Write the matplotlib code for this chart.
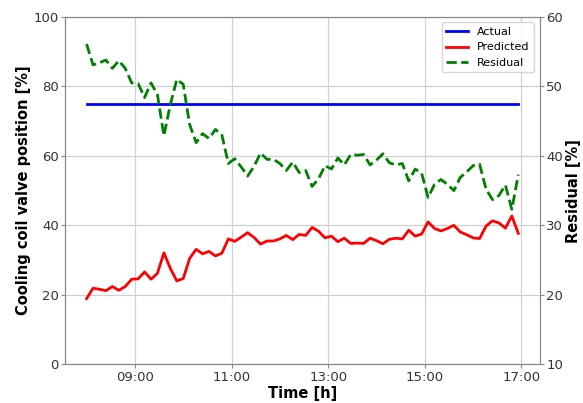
import matplotlib
matplotlib.use("Agg")
import matplotlib.pyplot as plt
import matplotlib.dates as mdates
import numpy as np
import pandas as pd

start_time = "2023-01-01 08:00"
step = "8min"
actual_value = 75.0
predicted = [18.9, 21.9, 21.6, 21.2, 22.4, 21.3, 22.4, 24.5, 24.6, 26.6,
             24.5, 26.2, 32.1, 27.6, 24.0, 24.7, 30.5, 33.1, 31.8, 32.5,
             31.2, 32.0, 36.1, 35.4, 36.6, 37.9, 36.5, 34.6, 35.5, 35.5,
             36.1, 37.1, 35.9, 37.4, 37.1, 39.4, 38.3, 36.4, 36.9, 35.3,
             36.3, 34.8, 34.9, 34.8, 36.3, 35.6, 34.7, 36.0, 36.3, 36.1,
             38.6, 36.9, 37.5, 41.0, 39.1, 38.4, 39.1, 40.0, 38.1, 37.3,
             36.4, 36.2, 39.8, 41.3, 40.7, 39.2, 42.7, 37.7]
times = pd.date_range(start_time, periods=len(predicted), freq=step)
actual = [actual_value] * len(predicted)
residual = [a - p for a, p in zip(actual, predicted)]

fig = plt.figure(figsize=(5.83, 4.03), dpi=100)
ax = fig.add_axes([0.1115, 0.096, 0.8145, 0.862])
ax2 = ax.twinx()

l1, = ax.plot(times, actual, color="blue", lw=2, label="Actual")
l2, = ax.plot(times, predicted, color="red", lw=2, label="Predicted")
l3, = ax2.plot(times, residual, color="green", lw=2, ls="--", label="Residual")

ax.set_ylim(0, 100)
ax.set_yticks([0, 20, 40, 60, 80, 100])
ax2.set_ylim(10, 60)
ax2.set_yticks([10, 20, 30, 40, 50, 60])

ax.xaxis.set_major_locator(mdates.HourLocator(byhour=[9, 11, 13, 15, 17]))
ax.xaxis.set_major_formatter(mdates.DateFormatter("%H:%M"))

ax.grid(True, color="#d0d0d0", lw=0.9)
ax.set_axisbelow(True)

for a in (ax, ax2):
    for s in a.spines.values():
        s.set_color("#888888")
    a.tick_params(colors="#888888", labelcolor="#333333", labelsize=9.5,
                  length=3, pad=1.5)

ax.set_xlabel("Time [h]", fontsize=10.5, fontweight="bold", labelpad=1.5)
ax.set_ylabel("Cooling coil valve position [%]", fontsize=10.5,
              fontweight="bold", labelpad=2)
ax2.set_ylabel("Residual [%]", fontsize=10.5, fontweight="bold", labelpad=2)

ax2.legend(handles=[l1, l2, l3], loc="upper right", fontsize=8)

fig.savefig("out.png", dpi=100)
